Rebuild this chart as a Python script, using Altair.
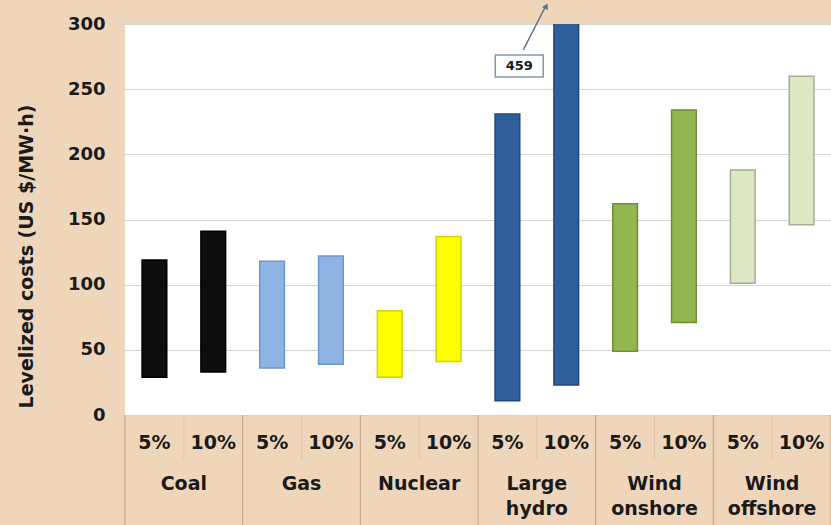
import altair as alt
import pandas as pd

# Levelized cost ranges (US $/MW·h) at 5% and 10% discount rates
techs = ["Coal", "Gas", "Nuclear", "Large hydro", "Wind onshore", "Wind offshore"]
name_line1 = ["Coal", "Gas", "Nuclear", "Large", "Wind", "Wind"]
name_line2 = ["", "", "", "hydro", "onshore", "offshore"]
rates = ["5%", "10%"]
low_5 = [29, 36, 29, 11, 49, 101]
high_5 = [119, 118, 80, 231, 162, 188]
low_10 = [33, 39, 41, 23, 71, 146]
high_10 = [141, 122, 137, 459, 234, 260]

fill_colors = ["#0d0d0d", "#8EB4E3", "#FFFF00", "#2F5E9C", "#93B650", "#DCE8C4"]
edge_colors = ["#000000", "#6C98D0", "#D2D200", "#23487A", "#6E8E34", "#A3AD93"]

Y_MAX = 300
BG = "#EFD6BA"
FONT = "DejaVu Sans"
INK = "#1a1a1a"

rows = []
for i, t in enumerate(techs):
    for j, (lo, hi) in enumerate([(low_5[i], high_5[i]), (low_10[i], high_10[i])]):
        pos = 2 * i + j
        rows.append({
            "tech": t, "rate": rates[j], "low": lo, "high": hi,
            "left": pos + 0.29, "right": pos + 0.71, "center": pos + 0.5,
        })
bars = pd.DataFrame(rows)

groups = pd.DataFrame({
    "tech": techs, "line1": name_line1, "line2": name_line2,
    "center": [2 * i + 1 for i in range(len(techs))],
})
major_sep = pd.DataFrame({"x": [2 * i for i in range(len(techs) + 1)]})
minor_sep = pd.DataFrame({"x": [2 * i + 1 for i in range(len(techs))]})
off_scale = bars[bars["high"] > Y_MAX].assign(label=lambda d: d["high"].astype(str))

xs = alt.Scale(domain=[0, 12], nice=False, zero=False)
ys = alt.Scale(domain=[0, Y_MAX], nice=False)
color = alt.Color("tech:N", scale=alt.Scale(domain=techs, range=fill_colors), legend=None)
stroke = alt.Stroke("tech:N", scale=alt.Scale(domain=techs, range=edge_colors), legend=None)

bar_layer = alt.Chart(bars).mark_bar(clip=True, strokeWidth=1.5).encode(
    x=alt.X("left:Q", scale=xs, axis=None),
    x2="right:Q",
    y=alt.Y("low:Q", scale=ys, axis=alt.Axis(
        values=[0, 50, 100, 150, 200, 250, 300], grid=True, gridColor="#D4D4D4",
        gridWidth=1, domain=False, ticks=True, tickSize=4, tickColor="#D4D4D4",
        labelFont=FONT, labelFontSize=18, labelFontWeight="bold", labelColor=INK,
        labelPadding=16, title="Levelized costs (US $/MW·h)", titleFont=FONT,
        titleFontSize=19, titleFontWeight="bold", titleColor=INK,
        titleAngle=-90, titleX=-99, titleY=232, titleAlign="center",
        titleBaseline="middle")),
    y2="high:Q",
    color=color,
    stroke=stroke,
)

text_style = dict(font=FONT, fontSize=19, fontWeight="bold", color=INK, baseline="middle")

rate_text = alt.Chart(bars).mark_text(**text_style).encode(
    x=alt.X("center:Q", scale=xs), y=alt.value(419), text="rate:N")

name1 = alt.Chart(groups).mark_text(**text_style).encode(
    x=alt.X("center:Q", scale=xs), y=alt.value(460), text="line1:N")

name2 = alt.Chart(groups).mark_text(**text_style).encode(
    x=alt.X("center:Q", scale=xs), y=alt.value(485), text="line2:N")

major_rules = alt.Chart(major_sep).mark_rule(color="#B9A58C", strokeWidth=1).encode(
    x=alt.X("x:Q", scale=xs), y=alt.value(391), y2=alt.value(501))

minor_rules = alt.Chart(minor_sep).mark_rule(color="#DCC6AA", strokeWidth=1).encode(
    x=alt.X("x:Q", scale=xs), y=alt.value(391), y2=alt.value(436))

# Call-out for the bar that runs past the top of the axis
box = alt.Chart(off_scale).mark_rect(
    fill="white", stroke="#8497B0", strokeWidth=1.5, xOffset=-71, x2Offset=-23
).encode(x=alt.X("center:Q", scale=xs), x2="center:Q", y=alt.value(31), y2=alt.value(53))

box_text = alt.Chart(off_scale).mark_text(
    font=FONT, fontSize=13, fontWeight="bold", color=INK, xOffset=-47, baseline="middle"
).encode(x=alt.X("center:Q", scale=xs), y=alt.value(42), text="label:N")

arrow = alt.Chart(off_scale).mark_rule(
    color="#5B6F88", strokeWidth=1.5, xOffset=-43, x2Offset=-21
).encode(x=alt.X("center:Q", scale=xs), x2="center:Q", y=alt.value(26), y2=alt.value(-17))

arrow_head = alt.Chart(off_scale).mark_point(
    shape="triangle-up", filled=True, color="#5B6F88", size=45, angle=27,
    xOffset=-20, opacity=1
).encode(x=alt.X("center:Q", scale=xs), y=alt.value(-18))

chart = alt.layer(
    bar_layer, rate_text, name1, name2, major_rules, minor_rules,
    arrow, arrow_head, box, box_text,
).properties(
    width=706, height=391, autosize="none",
    padding={"left": 125, "top": 24, "right": 0, "bottom": 110},
    background=BG,
).configure_view(fill="white", stroke=None)

chart.save("out.html", embed_options={"renderer": "svg", "actions": False})
